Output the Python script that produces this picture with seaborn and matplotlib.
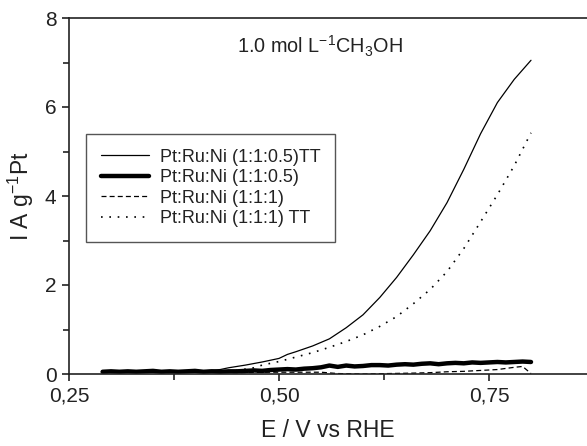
import numpy as np
import pandas as pd
import matplotlib
matplotlib.use("Agg")
import matplotlib.pyplot as plt
import seaborn as sns
from matplotlib.ticker import MultipleLocator, FuncFormatter

# ---- data ----
labels = ["Pt:Ru:Ni (1:1:0.5)TT", "Pt:Ru:Ni (1:1:0.5)", "Pt:Ru:Ni (1:1:1)", "Pt:Ru:Ni (1:1:1) TT"]

e_tt05 = [0.29, 0.32, 0.35, 0.38, 0.41, 0.43, 0.44, 0.46, 0.48, 0.50, 0.51, 0.52, 0.54,
          0.56, 0.58, 0.60, 0.62, 0.64, 0.66, 0.68, 0.70, 0.72, 0.74, 0.76, 0.78, 0.80]
i_tt05 = [0.04, 0.05, 0.06, 0.06, 0.07, 0.10, 0.14, 0.20, 0.27, 0.35, 0.44, 0.50, 0.63,
          0.79, 1.04, 1.33, 1.72, 2.17, 2.68, 3.22, 3.85, 4.60, 5.40, 6.10, 6.62, 7.05]

e_05 = [0.29, 0.30, 0.31, 0.32, 0.33, 0.34, 0.35, 0.36, 0.37, 0.38, 0.39, 0.40, 0.41, 0.42,
        0.43, 0.44, 0.45, 0.46, 0.47, 0.48, 0.49, 0.50, 0.51, 0.52, 0.53, 0.54, 0.55, 0.56,
        0.57, 0.58, 0.59, 0.60, 0.61, 0.62, 0.63, 0.64, 0.65, 0.66, 0.67, 0.68, 0.69, 0.70,
        0.71, 0.72, 0.73, 0.74, 0.75, 0.76, 0.77, 0.78, 0.79, 0.80]
i_05 = [0.05, 0.06, 0.05, 0.06, 0.05, 0.06, 0.07, 0.05, 0.06, 0.05, 0.06, 0.07, 0.05, 0.06,
        0.05, 0.06, 0.06, 0.07, 0.08, 0.07, 0.09, 0.10, 0.11, 0.10, 0.12, 0.13, 0.15, 0.19,
        0.16, 0.19, 0.17, 0.18, 0.20, 0.20, 0.19, 0.21, 0.22, 0.21, 0.23, 0.24, 0.22, 0.24,
        0.25, 0.24, 0.26, 0.25, 0.26, 0.27, 0.26, 0.27, 0.28, 0.27]

e_11 = [0.29, 0.33, 0.37, 0.41, 0.45, 0.49, 0.53, 0.55, 0.57, 0.60, 0.63, 0.66, 0.68,
        0.70, 0.72, 0.74, 0.76, 0.78, 0.79, 0.80]
i_11 = [0.03, 0.04, 0.03, 0.04, 0.03, 0.04, 0.04, 0.04, 0.01, 0.00, 0.01, 0.02, 0.03,
        0.05, 0.06, 0.08, 0.10, 0.15, 0.17, 0.01]

e_11tt = [0.29, 0.33, 0.37, 0.41, 0.45, 0.47, 0.48, 0.50, 0.52, 0.54, 0.56, 0.58, 0.60,
          0.62, 0.64, 0.66, 0.68, 0.70, 0.72, 0.74, 0.76, 0.78, 0.80]
i_11tt = [0.04, 0.05, 0.05, 0.06, 0.08, 0.14, 0.20, 0.28, 0.38, 0.48, 0.60, 0.73, 0.88,
          1.07, 1.29, 1.58, 1.90, 2.30, 2.82, 3.42, 4.03, 4.68, 5.42]

series = [(e_tt05, i_tt05), (e_05, i_05), (e_11, i_11), (e_11tt, i_11tt)]
styles = [dict(lw=0.9, ls="-"), dict(lw=3.2, ls="-"),
          dict(lw=0.9, ls=(0, (4, 2.5))), dict(lw=1.2, ls=(0, (1, 4)))]

sns.set_theme(style="ticks")
plt.rcParams['font.family'] = ['Liberation Sans', 'DejaVu Sans']
plt.rcParams['mathtext.default'] = 'regular'

fig = plt.figure(figsize=(5.87, 4.46), dpi=100)
ax = fig.add_axes([69/587, 1 - 374/446, 1 - 69/587, (374 - 18)/446])

for (e, i), lab, st in zip(series, labels, styles):
    df = pd.DataFrame({"E": e, "I": i})
    sns.lineplot(data=df, x="E", y="I", ax=ax, color="black", label=lab,
                 linewidth=st["lw"], linestyle=st["ls"], estimator=None, sort=False)

ax.set_xlim(0.25, 0.25 + (587 - 69) / 840)
ax.set_ylim(0, 8)
ax.xaxis.set_major_locator(MultipleLocator(0.25))
ax.xaxis.set_minor_locator(MultipleLocator(0.125))
ax.yaxis.set_major_locator(MultipleLocator(2))
ax.yaxis.set_minor_locator(MultipleLocator(1))
ax.xaxis.set_major_formatter(FuncFormatter(lambda v, p: f"{v:.2f}".replace(".", ",")))
ax.yaxis.set_major_formatter(FuncFormatter(lambda v, p: f"{v:.0f}"))
ax.tick_params(which="both", direction="out", colors="#222222", labelsize=15, width=1.2)
ax.tick_params(which="major", length=5, pad=4)
ax.tick_params(which="minor", length=4)
for s in ["left", "bottom", "top"]:
    ax.spines[s].set_linewidth(1.2)
    ax.spines[s].set_color("#222222")
ax.spines["right"].set_visible(False)

ax.set_xlabel("E / V vs RHE", fontsize=16.5, color="#222222", labelpad=10)
ax.set_ylabel("I A g$^{-1}$Pt", fontsize=16.5, color="#222222", labelpad=6)

ax.text(0.485, 0.92, "1.0 mol L$^{-1}$CH$_{3}$OH", transform=ax.transAxes,
        ha="center", va="center", fontsize=14.3, color="#222222")

leg = ax.legend(loc="upper left", bbox_to_anchor=(0.033, 0.674), fontsize=13,
                frameon=True, fancybox=False, edgecolor="#555555", framealpha=1,
                handlelength=2.7, handletextpad=0.6, labelspacing=0.2,
                borderpad=0.8, borderaxespad=0)
leg.get_frame().set_linewidth(1.0)
for t in leg.get_texts():
    t.set_color("#222222")

fig.savefig("out.png", dpi=100)
